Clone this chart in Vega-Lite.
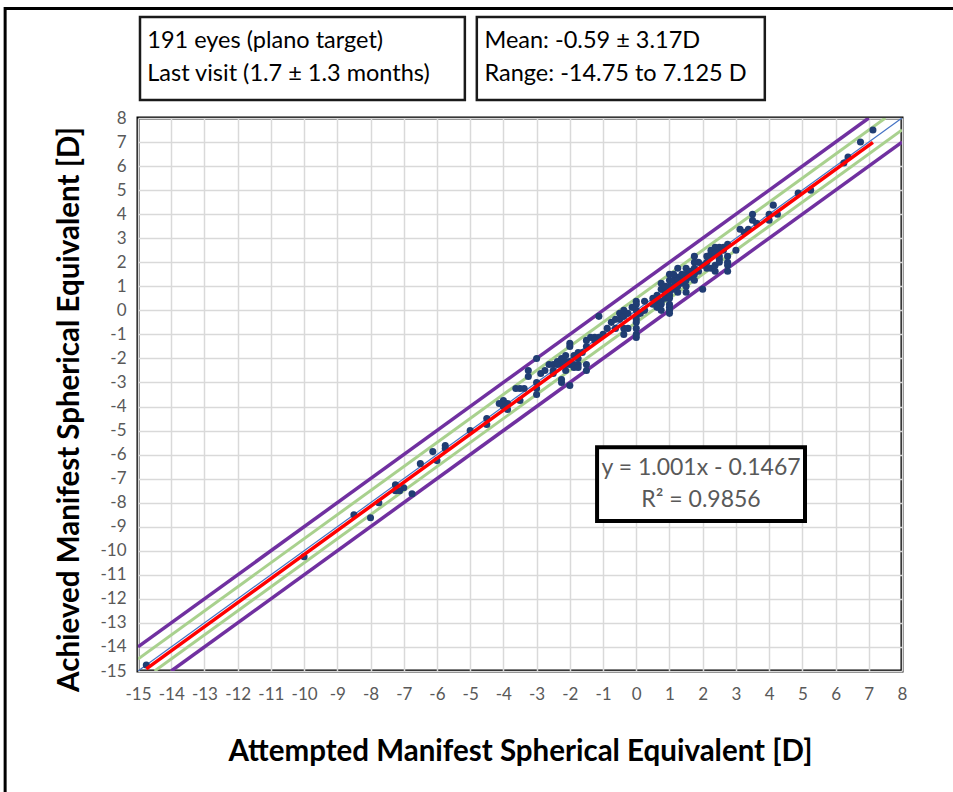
{
  "$schema": "https://vega.github.io/schema/vega-lite/v6.json",
  "width": 764,
  "height": 553,
  "autosize": {"type": "none"},
  "padding": {"left": 138, "top": 118, "right": 51, "bottom": 121},
  "background": "white",
  "config": {
    "view": {"stroke": "black", "strokeWidth": 3},
    "font": "Lato",
    "axis": {
      "labelFont": "Lato", "titleFont": "Lato",
      "titleFontSize": 29.5, "titleFontWeight": "bold", "titleColor": "black",
      "labelFontSize": 17, "labelColor": "#595959", "labelOverlap": false, "labelFlush": false,
      "ticks": false, "domain": false, "grid": true, "gridColor": "#D9D9D9", "gridWidth": 1.5
    },
    "axisX": {"titlePadding": 35, "labelPadding": 15},
    "axisY": {"titlePadding": 15, "labelPadding": 12, "titleY": 291}
  },
  "datasets": {
    "points": [
      {"attempted": -14.75, "achieved": -14.75}, {"attempted": -10, "achieved": -10.25}, {"attempted": -8.5, "achieved": -8.5},
      {"attempted": -8, "achieved": -8.625}, {"attempted": -7.75, "achieved": -8}, {"attempted": -7.25, "achieved": -7.25},
      {"attempted": -7.25, "achieved": -7.5}, {"attempted": -7.125, "achieved": -7.5}, {"attempted": -7, "achieved": -7.375},
      {"attempted": -6.75, "achieved": -7.625}, {"attempted": -6.5, "achieved": -6.375}, {"attempted": -6, "achieved": -6.25},
      {"attempted": -6.125, "achieved": -5.875}, {"attempted": -5.75, "achieved": -5.625}, {"attempted": -5.75, "achieved": -5.75},
      {"attempted": -5, "achieved": -5}, {"attempted": -4.5, "achieved": -4.5}, {"attempted": -4.5, "achieved": -4.75},
      {"attempted": -4, "achieved": -3.75}, {"attempted": -3.875, "achieved": -3.875}, {"attempted": -4, "achieved": -4},
      {"attempted": -3.875, "achieved": -4.125}, {"attempted": -4.125, "achieved": -3.875}, {"attempted": -3.625, "achieved": -3.25},
      {"attempted": -3.5, "achieved": -3.25}, {"attempted": -3.375, "achieved": -3.25}, {"attempted": -3.5, "achieved": -3.75},
      {"attempted": -3.25, "achieved": -2.5}, {"attempted": -3.25, "achieved": -2.75}, {"attempted": -3, "achieved": -2},
      {"attempted": -3, "achieved": -3}, {"attempted": -3, "achieved": -3.5}, {"attempted": -3, "achieved": -3.25},
      {"attempted": -2.875, "achieved": -2.625}, {"attempted": -2.625, "achieved": -2.25}, {"attempted": -2.5, "achieved": -2.5},
      {"attempted": -2.5, "achieved": -2.625}, {"attempted": -2.25, "achieved": -3}, {"attempted": -2.25, "achieved": -2.875},
      {"attempted": -2, "achieved": -3.125}, {"attempted": -2.25, "achieved": -2}, {"attempted": -2.25, "achieved": -2.25},
      {"attempted": -2.125, "achieved": -2.125}, {"attempted": -2, "achieved": -2.125}, {"attempted": -2, "achieved": -2.25},
      {"attempted": -1.875, "achieved": -1.875}, {"attempted": -1.875, "achieved": -2.25}, {"attempted": -1.875, "achieved": -2.375},
      {"attempted": -1.75, "achieved": -1.75}, {"attempted": -1.75, "achieved": -2.25}, {"attempted": -1.75, "achieved": -2.375},
      {"attempted": -1.5, "achieved": -2.25}, {"attempted": -1.5, "achieved": -2.5}, {"attempted": -2, "achieved": -1.375},
      {"attempted": -2, "achieved": -1.5}, {"attempted": -1.5, "achieved": -1.25}, {"attempted": -1.375, "achieved": -1.125},
      {"attempted": -1.25, "achieved": -1.125}, {"attempted": -1.125, "achieved": -1.125}, {"attempted": -1, "achieved": -1},
      {"attempted": -1.125, "achieved": -0.25}, {"attempted": -0.75, "achieved": -0.5}, {"attempted": -0.625, "achieved": -0.375},
      {"attempted": -0.5, "achieved": -0.375}, {"attempted": -0.5, "achieved": -0.125}, {"attempted": -0.375, "achieved": -0.25},
      {"attempted": -0.375, "achieved": -0.75}, {"attempted": -0.625, "achieved": -0.75}, {"attempted": -0.375, "achieved": -1},
      {"attempted": -0.25, "achieved": -0.75}, {"attempted": -0.25, "achieved": -0.125}, {"attempted": -0.375, "achieved": 0},
      {"attempted": -2.75, "achieved": -2.5}, {"attempted": -2.125, "achieved": -1.875}, {"attempted": -2.375, "achieved": -2.125},
      {"attempted": -2.5, "achieved": -2.25}, {"attempted": -1.625, "achieved": -1.75}, {"attempted": -2.125, "achieved": -2.5},
      {"attempted": -1.75, "achieved": -2}, {"attempted": -1.5, "achieved": -1.5},
      {"attempted": 0, "achieved": 0.375}, {"attempted": 0, "achieved": 0.25}, {"attempted": 0, "achieved": 0},
      {"attempted": 0, "achieved": -0.25}, {"attempted": 0, "achieved": -0.375}, {"attempted": 0, "achieved": -0.5},
      {"attempted": 0, "achieved": -0.75}, {"attempted": 0, "achieved": -1}, {"attempted": 0, "achieved": -1.125},
      {"attempted": 0.125, "achieved": -0.125}, {"attempted": 0.25, "achieved": 0}, {"attempted": 0.25, "achieved": 0.375},
      {"attempted": 0.625, "achieved": 0.375}, {"attempted": 0.75, "achieved": 0.375}, {"attempted": 0.75, "achieved": 0.25},
      {"attempted": 0.75, "achieved": 0}, {"attempted": 0.625, "achieved": 0.125}, {"attempted": 1, "achieved": 0.125},
      {"attempted": 1, "achieved": 0}, {"attempted": 1, "achieved": -0.125}, {"attempted": 0.875, "achieved": 0.5},
      {"attempted": 1, "achieved": 0.625}, {"attempted": 0.875, "achieved": 0.75}, {"attempted": 1.25, "achieved": 0.75},
      {"attempted": 1.125, "achieved": 0.875}, {"attempted": 0.75, "achieved": 0.875}, {"attempted": 0.875, "achieved": 0.875},
      {"attempted": 1, "achieved": 1}, {"attempted": 1.125, "achieved": 1}, {"attempted": 0.75, "achieved": 1.125},
      {"attempted": 1.25, "achieved": 1.125}, {"attempted": 1.375, "achieved": 1.125}, {"attempted": 1, "achieved": 1.25},
      {"attempted": 1.125, "achieved": 1.25}, {"attempted": 1.25, "achieved": 1.375}, {"attempted": 1.375, "achieved": 1.25},
      {"attempted": 1, "achieved": 1.5}, {"attempted": 1.25, "achieved": 1.75}, {"attempted": 1.5, "achieved": 1.5},
      {"attempted": 1.5, "achieved": 1.75}, {"attempted": 1.625, "achieved": 1.375}, {"attempted": 1.75, "achieved": 1.5},
      {"attempted": 1.75, "achieved": 1.75}, {"attempted": 1.875, "achieved": 1.625}, {"attempted": 1.875, "achieved": 2},
      {"attempted": 1.75, "achieved": 2}, {"attempted": 1.75, "achieved": 2.25}, {"attempted": 2, "achieved": 0.875},
      {"attempted": 2, "achieved": 1.875}, {"attempted": 2.125, "achieved": 2}, {"attempted": 2.125, "achieved": 1.75},
      {"attempted": 2.25, "achieved": 1.75}, {"attempted": 2.375, "achieved": 1.625}, {"attempted": 2.375, "achieved": 1.875},
      {"attempted": 2.25, "achieved": 2.375}, {"attempted": 2.25, "achieved": 2.25}, {"attempted": 2.375, "achieved": 2.5},
      {"attempted": 2.5, "achieved": 2.625}, {"attempted": 2.5, "achieved": 2.5}, {"attempted": 2.375, "achieved": 2.625},
      {"attempted": 2.25, "achieved": 2.5}, {"attempted": 2.5, "achieved": 2.25}, {"attempted": 2.5, "achieved": 2.125},
      {"attempted": 2.5, "achieved": 2}, {"attempted": 2.75, "achieved": 2.75}, {"attempted": 2.75, "achieved": 2.25},
      {"attempted": 2.75, "achieved": 2}, {"attempted": 2.75, "achieved": 1.625}, {"attempted": 2.75, "achieved": 1.875},
      {"attempted": 3, "achieved": 2.5}, {"attempted": 3.125, "achieved": 3.375}, {"attempted": 3.25, "achieved": 3.25},
      {"attempted": 3.375, "achieved": 3.375}, {"attempted": 3.5, "achieved": 3.75}, {"attempted": 3.5, "achieved": 4},
      {"attempted": 3.625, "achieved": 3.625}, {"attempted": 4, "achieved": 4}, {"attempted": 4, "achieved": 3.75},
      {"attempted": 4.25, "achieved": 4}, {"attempted": 4.125, "achieved": 4.375}, {"attempted": 4.875, "achieved": 4.875},
      {"attempted": 5.25, "achieved": 5}, {"attempted": 6.25, "achieved": 6.125}, {"attempted": 6.375, "achieved": 6.375},
      {"attempted": 6.75, "achieved": 7}, {"attempted": 7.125, "achieved": 7.5},
      {"attempted": 1, "achieved": 0.25}, {"attempted": 1, "achieved": 0.5}, {"attempted": 1, "achieved": 0.75},
      {"attempted": 1.5, "achieved": 1}, {"attempted": 1.5, "achieved": 1.25}, {"attempted": 1.25, "achieved": 1},
      {"attempted": 0.5, "achieved": 0.25}, {"attempted": 0.5, "achieved": 0.5}, {"attempted": 1.625, "achieved": 1.625},
      {"attempted": 1.5, "achieved": 0.75}, {"attempted": 2.625, "achieved": 2.625}, {"attempted": 2.375, "achieved": 2.375},
      {"attempted": 1.125, "achieved": 1.5}, {"attempted": 0.875, "achieved": 1}, {"attempted": -0.125, "achieved": 0.125},
      {"attempted": 1.375, "achieved": 1.5}, {"attempted": 2.625, "achieved": 2.5}, {"attempted": -2.375, "achieved": -2.25},
      {"attempted": -2.125, "achieved": -2.25}, {"attempted": 1.25, "achieved": 1.25}, {"attempted": 0.625, "achieved": 0.625},
      {"attempted": -1.25, "achieved": -1.25}, {"attempted": -0.875, "achieved": -0.75}, {"attempted": 2.125, "achieved": 2.25},
      {"attempted": 1.75, "achieved": 1.25}
    ],
    "lines": [
      {"series": "identity", "x": -15, "y": -15}, {"series": "identity", "x": 8, "y": 8},
      {"series": "plus1", "x": -15, "y": -14}, {"series": "plus1", "x": 7, "y": 8},
      {"series": "minus1", "x": -14, "y": -15}, {"series": "minus1", "x": 8, "y": 7},
      {"series": "plus05", "x": -15, "y": -14.5}, {"series": "plus05", "x": 7.5, "y": 8},
      {"series": "minus05", "x": -14.5, "y": -15}, {"series": "minus05", "x": 8, "y": 7.5},
      {"series": "fit", "x": -14.75, "y": -14.911}, {"series": "fit", "x": 7.125, "y": 6.985}
    ]
  },
  "layer": [
    {
      "data": {"name": "points"},
      "mark": {"type": "circle", "size": 0, "opacity": 0},
      "encoding": {
        "x": {
          "field": "attempted", "type": "quantitative",
          "scale": {"domain": [-15, 8], "nice": false, "zero": false},
          "title": "Attempted Manifest Spherical Equivalent [D]",
          "axis": {"values": [-15,-14,-13,-12,-11,-10,-9,-8,-7,-6,-5,-4,-3,-2,-1,0,1,2,3,4,5,6,7,8], "tickCount": 24, "labelOverlap": false, "labelExpr": "toString(datum.value)"}
        },
        "y": {
          "field": "achieved", "type": "quantitative",
          "scale": {"domain": [-15, 8], "nice": false, "zero": false},
          "title": "Achieved Manifest Spherical Equivalent [D]",
          "axis": {"values": [-15,-14,-13,-12,-11,-10,-9,-8,-7,-6,-5,-4,-3,-2,-1,0,1,2,3,4,5,6,7,8], "tickCount": 24, "labelOverlap": false, "labelExpr": "toString(datum.value)"}
        }
      }
    },
    {
      "data": {"values": [{}]},
      "mark": {"type": "rect", "filled": false, "stroke": "black", "strokeWidth": 3},
      "encoding": {
        "x": {"datum": -19.0, "type": "quantitative"},
        "x2": {"datum": 10},
        "y": {"datum": 12.55, "type": "quantitative"},
        "y2": {"datum": -22}
      }
    },
    {
      "data": {"values": [{}]},
      "mark": {"type": "rect", "fill": "white", "stroke": "#1a1a1a", "strokeWidth": 2.5},
      "encoding": {
        "x": {"datum": -14.94, "type": "quantitative"},
        "x2": {"datum": -5.16},
        "y": {"datum": 12.2, "type": "quantitative"},
        "y2": {"datum": 8.75}
      }
    },
    {
      "data": {"values": [{}]},
      "mark": {"type": "rect", "fill": "white", "stroke": "#1a1a1a", "strokeWidth": 2.5},
      "encoding": {
        "x": {"datum": -4.8, "type": "quantitative"},
        "x2": {"datum": 3.87},
        "y": {"datum": 12.2, "type": "quantitative"},
        "y2": {"datum": 8.75}
      }
    },
    {
      "data": {"values": [{}]},
      "mark": {"type": "text", "text": "191 eyes (plano target)", "align": "left", "baseline": "middle", "fontSize": 23.5, "color": "black", "font": "Lato"},
      "encoding": {"x": {"datum": -14.72, "type": "quantitative"}, "y": {"datum": 11.2, "type": "quantitative"}}
    },
    {
      "data": {"values": [{}]},
      "mark": {"type": "text", "text": "Last visit (1.7 ± 1.3 months)", "align": "left", "baseline": "middle", "fontSize": 23.5, "color": "black", "font": "Lato"},
      "encoding": {"x": {"datum": -14.72, "type": "quantitative"}, "y": {"datum": 9.85, "type": "quantitative"}}
    },
    {
      "data": {"values": [{}]},
      "mark": {"type": "text", "text": "Mean: -0.59 ± 3.17D", "align": "left", "baseline": "middle", "fontSize": 23.5, "color": "black", "font": "Lato"},
      "encoding": {"x": {"datum": -4.57, "type": "quantitative"}, "y": {"datum": 11.2, "type": "quantitative"}}
    },
    {
      "data": {"values": [{}]},
      "mark": {"type": "text", "text": "Range: -14.75 to 7.125 D", "align": "left", "baseline": "middle", "fontSize": 23.5, "color": "black", "font": "Lato"},
      "encoding": {"x": {"datum": -4.57, "type": "quantitative"}, "y": {"datum": 9.85, "type": "quantitative"}}
    },
    {
      "data": {"name": "lines"},
      "transform": [{"filter": "datum.series === 'plus1' || datum.series === 'minus1'"}],
      "mark": {"type": "line", "color": "#7030A0", "strokeWidth": 3.5, "clip": true},
      "encoding": {
        "x": {"field": "x", "type": "quantitative"},
        "y": {"field": "y", "type": "quantitative"},
        "detail": {"field": "series"}
      }
    },
    {
      "data": {"name": "lines"},
      "transform": [{"filter": "datum.series === 'plus05' || datum.series === 'minus05'"}],
      "mark": {"type": "line", "color": "#A9D18E", "strokeWidth": 3, "clip": true},
      "encoding": {
        "x": {"field": "x", "type": "quantitative"},
        "y": {"field": "y", "type": "quantitative"},
        "detail": {"field": "series"}
      }
    },
    {
      "data": {"name": "lines"},
      "transform": [{"filter": "datum.series === 'identity'"}],
      "mark": {"type": "line", "color": "#4472C4", "strokeWidth": 1.2, "clip": true},
      "encoding": {
        "x": {"field": "x", "type": "quantitative"},
        "y": {"field": "y", "type": "quantitative"}
      }
    },
    {
      "data": {"name": "points"},
      "mark": {"type": "circle", "size": 50, "color": "#203D73", "opacity": 1},
      "encoding": {
        "x": {"field": "attempted", "type": "quantitative"},
        "y": {"field": "achieved", "type": "quantitative"}
      }
    },
    {
      "data": {"name": "lines"},
      "transform": [{"filter": "datum.series === 'fit'"}],
      "mark": {"type": "line", "color": "#FF0000", "strokeWidth": 3.5, "clip": true},
      "encoding": {
        "x": {"field": "x", "type": "quantitative"},
        "y": {"field": "y", "type": "quantitative"}
      }
    },
    {
      "data": {"values": [{}]},
      "mark": {"type": "rect", "fill": "white", "stroke": "black", "strokeWidth": 4},
      "encoding": {
        "x": {"datum": -1.18, "type": "quantitative"},
        "x2": {"datum": 5.08},
        "y": {"datum": -5.69, "type": "quantitative"},
        "y2": {"datum": -8.76}
      }
    },
    {
      "data": {"values": [{}]},
      "mark": {"type": "text", "text": "y = 1.001x - 0.1467", "align": "center", "baseline": "middle", "fontSize": 23, "color": "#595959", "font": "Lato"},
      "encoding": {"x": {"datum": 1.95, "type": "quantitative"}, "y": {"datum": -6.56, "type": "quantitative"}}
    },
    {
      "data": {"values": [{}]},
      "mark": {"type": "text", "text": "R² = 0.9856", "align": "center", "baseline": "middle", "fontSize": 23, "color": "#595959", "font": "Lato"},
      "encoding": {"x": {"datum": 1.95, "type": "quantitative"}, "y": {"datum": -7.89, "type": "quantitative"}}
    }
  ]
}
